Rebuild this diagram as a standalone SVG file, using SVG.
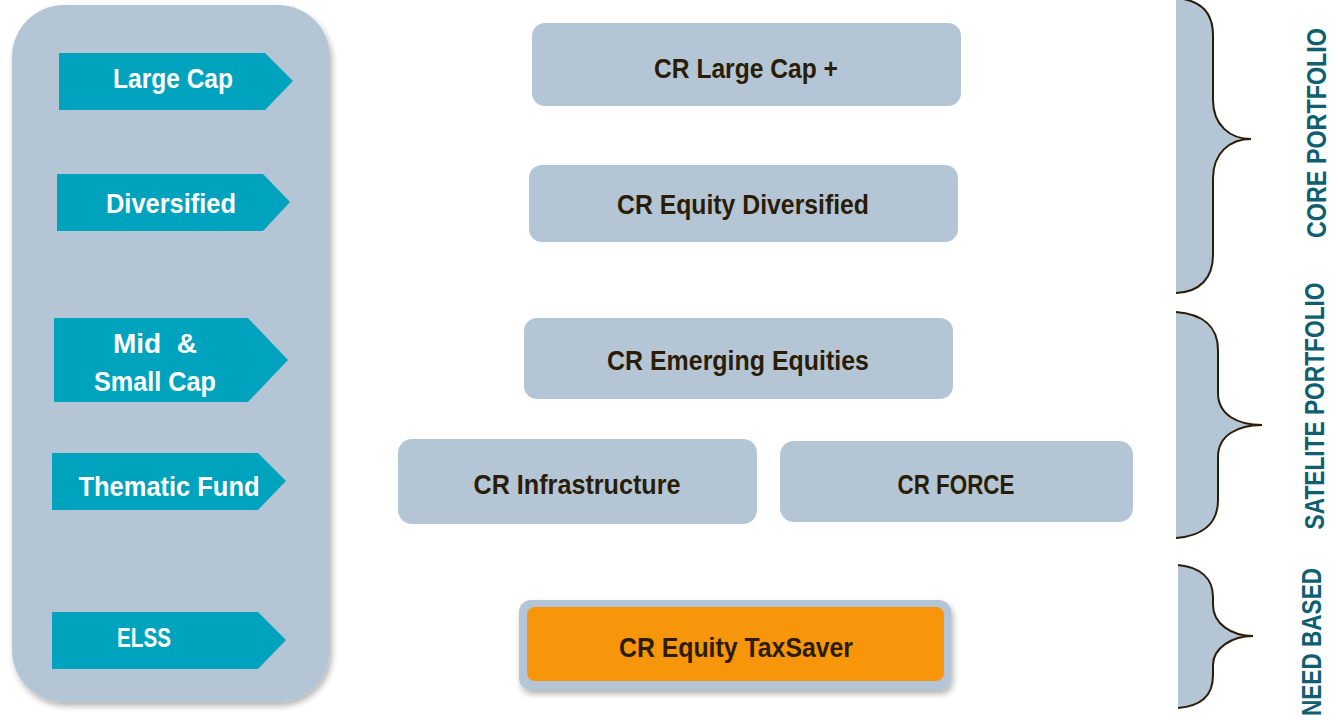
<svg xmlns="http://www.w3.org/2000/svg" width="1338" height="720" viewBox="0 0 1338 720">
<defs>
<filter id="sh" x="-10%" y="-10%" width="120%" height="120%">
<feGaussianBlur in="SourceAlpha" stdDeviation="3"/>
<feOffset dx="2" dy="4" result="o"/>
<feComponentTransfer><feFuncA type="linear" slope="0.3"/></feComponentTransfer>
<feMerge><feMergeNode/><feMergeNode in="SourceGraphic"/></feMerge>
</filter>
<style>
.panel{fill:#b4c6d6}
.arrow{fill:#00a3bd}
.box{fill:#b4c6d6}
.at{font-family:"Liberation Sans Narrow","Liberation Sans",Arial,sans-serif;font-size:28px;font-weight:bold;fill:#ffffff;text-anchor:middle}
.bt{font-family:"Liberation Sans Narrow","Liberation Sans",Arial,sans-serif;font-size:28px;font-weight:bold;fill:#2b1d05;text-anchor:middle}
.brace{fill:#b4c6d6;stroke:#2b1d05;stroke-width:2}
.lt{font-family:"Liberation Sans Narrow","Liberation Sans",Arial,sans-serif;font-size:27px;font-weight:bold;fill:#0e6070;text-anchor:middle}
</style>
</defs>
<rect width="1338" height="720" fill="#ffffff"/>

<g id="panel">
<rect class="panel" x="12" y="5" width="318" height="697" rx="52" filter="url(#sh)"/>
</g>

<g id="arrow-large-cap">
<polygon class="arrow" points="59,53 265,53 293,81 265,110 59,110"/>
<text class="at" x="173" y="88" textLength="120" lengthAdjust="spacingAndGlyphs">Large Cap</text>
</g>
<g id="arrow-diversified">
<polygon class="arrow" points="57,174 263,174 290,202 263,231 57,231"/>
<text class="at" x="171" y="213" textLength="130" lengthAdjust="spacingAndGlyphs">Diversified</text>
</g>
<g id="arrow-mid-small">
<polygon class="arrow" points="54,318 248,318 288,360 248,402 54,402"/>
<text class="at" x="155" y="353" textLength="84" lengthAdjust="spacingAndGlyphs" xml:space="preserve">Mid  &amp;</text>
<text class="at" x="155" y="391" textLength="122" lengthAdjust="spacingAndGlyphs">Small Cap</text>
</g>
<g id="arrow-thematic">
<polygon class="arrow" points="52,453 258,453 286,481 258,510 52,510"/>
<text class="at" x="169" y="496" textLength="181" lengthAdjust="spacingAndGlyphs">Thematic Fund</text>
</g>
<g id="arrow-elss">
<polygon class="arrow" points="52,612 258,612 286,640 258,669 52,669"/>
<text class="at" x="144" y="647" textLength="54" lengthAdjust="spacingAndGlyphs">ELSS</text>
</g>

<g id="box-large-cap-plus">
<rect class="box" x="532" y="23" width="429" height="83" rx="13"/>
<text class="bt" x="746" y="78" textLength="184" lengthAdjust="spacingAndGlyphs">CR Large Cap +</text>
</g>
<g id="box-equity-diversified">
<rect class="box" x="529" y="165" width="429" height="77" rx="13"/>
<text class="bt" x="743" y="214" textLength="252" lengthAdjust="spacingAndGlyphs">CR Equity Diversified</text>
</g>
<g id="box-emerging">
<rect class="box" x="524" y="318" width="429" height="81" rx="13"/>
<text class="bt" x="738" y="370" textLength="262" lengthAdjust="spacingAndGlyphs">CR Emerging Equities</text>
</g>
<g id="box-infrastructure">
<rect class="box" x="398" y="439" width="359" height="85" rx="14"/>
<text class="bt" x="577" y="494" textLength="207" lengthAdjust="spacingAndGlyphs">CR Infrastructure</text>
</g>
<g id="box-force">
<rect class="box" x="780" y="441" width="353" height="81" rx="14"/>
<text class="bt" x="956" y="494" textLength="117" lengthAdjust="spacingAndGlyphs">CR FORCE</text>
</g>
<g id="box-taxsaver">
<rect x="519" y="600" width="432" height="90" rx="12" fill="#b4c6d6" filter="url(#sh)"/>
<rect x="527" y="607" width="417" height="74" rx="8" fill="#f7960b"/>
<text class="bt" x="736" y="657" textLength="234" lengthAdjust="spacingAndGlyphs">CR Equity TaxSaver</text>
</g>

<g id="connectors">
<path class="brace" d="M1176,-2 C1200,0 1213,12 1213,35 L1213,100 C1213,125 1230,139 1251,139 C1230,139 1213,153 1213,178 L1213,255 C1213,278 1200,292 1176,293"/>
<path class="brace" d="M1176,312 C1202,314 1218,326 1218,350 L1218,393 C1218,415 1238,425 1262,425 C1238,425 1218,435 1218,457 L1218,500 C1218,524 1202,536 1176,538"/>
<path class="brace" d="M1178,565 C1200,567 1213,578 1213,597 L1213,605 C1213,624 1232,636 1253,636 C1232,636 1213,648 1213,665 L1213,675 C1213,697 1200,706 1178,708"/>
</g>

<g id="labels">
<text class="lt" transform="translate(1326,133) rotate(-90)" textLength="210" lengthAdjust="spacingAndGlyphs">CORE PORTFOLIO</text>
<text class="lt" transform="translate(1324,406) rotate(-90)" textLength="247" lengthAdjust="spacingAndGlyphs">SATELITE PORTFOLIO</text>
<text class="lt" transform="translate(1321,642) rotate(-90)" textLength="148" lengthAdjust="spacingAndGlyphs">NEED BASED</text>
</g>
</svg>
